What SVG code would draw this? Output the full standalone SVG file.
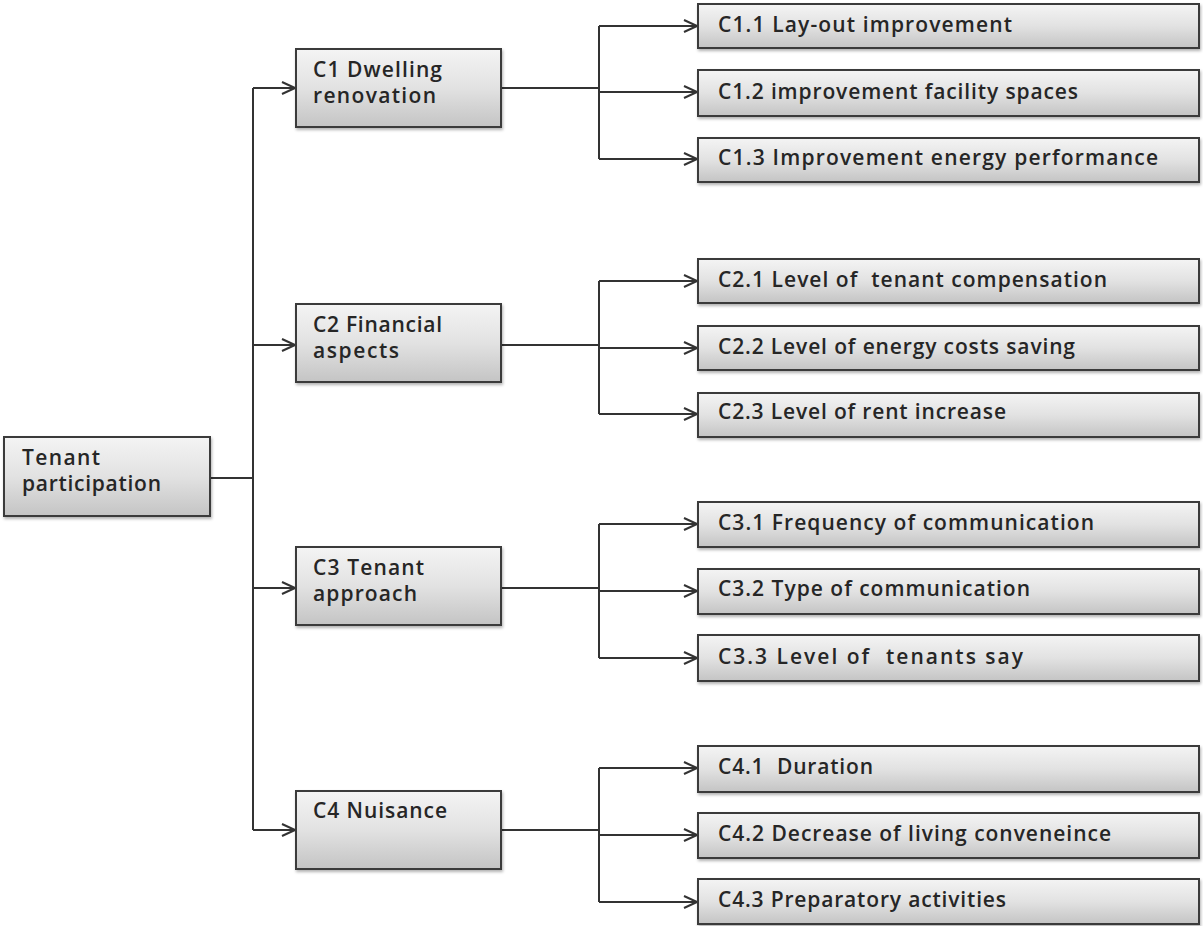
<svg xmlns="http://www.w3.org/2000/svg" width="1203" height="926" viewBox="0 0 1203 926">
<style>
.box{fill:url(#g);stroke:#3a3a3a;stroke-width:2;filter:url(#sh)}
.t{font-family:"Open Sans","DejaVu Sans",sans-serif;font-size:21px;fill:#262626;font-weight:600}
.c{fill:none;stroke:#333;stroke-width:2}
</style>
<defs>
<linearGradient id="g" x1="0" y1="0" x2="0" y2="1">
<stop offset="0" stop-color="#f4f4f4"/>
<stop offset="0.5" stop-color="#e2e2e2"/>
<stop offset="1" stop-color="#c4c4c4"/>
</linearGradient>
<filter id="sh" x="-5%" y="-10%" width="110%" height="130%">
<feDropShadow dx="1" dy="2" stdDeviation="1.5" flood-color="#000" flood-opacity="0.3"/>
</filter>
<marker id="a" markerWidth="16" markerHeight="14" refX="14" refY="7" orient="auto" markerUnits="userSpaceOnUse">
<path d="M1,1 L14,7 L1,13" fill="none" stroke="#333" stroke-width="2"/>
</marker>
</defs>
<g id="connectors">
<path class="c" d="M210,478 H253"/>
<path class="c" d="M253,88 V830"/>
<path class="c" d="M253,88 H295" marker-end="url(#a)"/>
<path class="c" d="M253,345 H295" marker-end="url(#a)"/>
<path class="c" d="M253,588 H295" marker-end="url(#a)"/>
<path class="c" d="M253,830 H295" marker-end="url(#a)"/>
<path class="c" d="M501,88 H599 M599,26 V159"/>
<path class="c" d="M599,26 H697" marker-end="url(#a)"/>
<path class="c" d="M599,92 H697" marker-end="url(#a)"/>
<path class="c" d="M599,159 H697" marker-end="url(#a)"/>
<path class="c" d="M501,345 H599 M599,281 V414"/>
<path class="c" d="M599,281 H697" marker-end="url(#a)"/>
<path class="c" d="M599,348 H697" marker-end="url(#a)"/>
<path class="c" d="M599,414 H697" marker-end="url(#a)"/>
<path class="c" d="M501,588 H599 M599,524 V658"/>
<path class="c" d="M599,524 H697" marker-end="url(#a)"/>
<path class="c" d="M599,591 H697" marker-end="url(#a)"/>
<path class="c" d="M599,658 H697" marker-end="url(#a)"/>
<path class="c" d="M501,830 H599 M599,768 V902"/>
<path class="c" d="M599,768 H697" marker-end="url(#a)"/>
<path class="c" d="M599,835 H697" marker-end="url(#a)"/>
<path class="c" d="M599,902 H697" marker-end="url(#a)"/>
</g>
<g id="root"><rect class="box" x="4" y="437" width="206" height="79"/>
<text class="t" x="22" y="465" textLength="78" lengthAdjust="spacing">Tenant</text>
<text class="t" x="22" y="491" textLength="139" lengthAdjust="spacing">participation</text></g>
<g id="c1"><rect class="box" x="296" y="49" width="205" height="78"/>
<text class="t" x="313" y="77" textLength="129" lengthAdjust="spacing">C1 Dwelling</text>
<text class="t" x="313" y="103" textLength="123" lengthAdjust="spacing">renovation</text></g>
<g id="c2"><rect class="box" x="296" y="304" width="205" height="78"/>
<text class="t" x="313" y="332" textLength="129" lengthAdjust="spacing">C2 Financial</text>
<text class="t" x="313" y="358" textLength="86" lengthAdjust="spacing">aspects</text></g>
<g id="c3"><rect class="box" x="296" y="547" width="205" height="78"/>
<text class="t" x="313" y="575" textLength="111" lengthAdjust="spacing">C3 Tenant</text>
<text class="t" x="313" y="601" textLength="104" lengthAdjust="spacing">approach</text></g>
<g id="c4"><rect class="box" x="296" y="791" width="205" height="78"/>
<text class="t" x="313" y="818" textLength="134" lengthAdjust="spacing">C4 Nuisance</text></g>
<g id="c11"><rect class="box" x="698" y="4" width="501" height="44"/>
<text class="t" x="718" y="32" textLength="294" lengthAdjust="spacing">C1.1 Lay-out improvement</text></g>
<g id="c12"><rect class="box" x="698" y="70" width="501" height="46"/>
<text class="t" x="718" y="99" textLength="360" lengthAdjust="spacing">C1.2 improvement facility spaces</text></g>
<g id="c13"><rect class="box" x="698" y="138" width="501" height="44"/>
<text class="t" x="718" y="165" textLength="440" lengthAdjust="spacing">C1.3 Improvement energy performance</text></g>
<g id="c21"><rect class="box" x="698" y="259" width="501" height="44"/>
<text class="t" x="718" y="287" textLength="389" lengthAdjust="spacing" xml:space="preserve">C2.1 Level of  tenant compensation</text></g>
<g id="c22"><rect class="box" x="698" y="326" width="501" height="44"/>
<text class="t" x="718" y="354" textLength="357" lengthAdjust="spacing">C2.2 Level of energy costs saving</text></g>
<g id="c23"><rect class="box" x="698" y="393" width="501" height="44"/>
<text class="t" x="718" y="419" textLength="288" lengthAdjust="spacing">C2.3 Level of rent increase</text></g>
<g id="c31"><rect class="box" x="698" y="502" width="501" height="45"/>
<text class="t" x="718" y="530" textLength="376" lengthAdjust="spacing">C3.1 Frequency of communication</text></g>
<g id="c32"><rect class="box" x="698" y="569" width="501" height="45"/>
<text class="t" x="718" y="596" textLength="312" lengthAdjust="spacing">C3.2 Type of communication</text></g>
<g id="c33"><rect class="box" x="698" y="635" width="501" height="46"/>
<text class="t" x="718" y="664" textLength="305" lengthAdjust="spacing" xml:space="preserve">C3.3 Level of  tenants say</text></g>
<g id="c41"><rect class="box" x="698" y="746" width="501" height="46"/>
<text class="t" x="718" y="774" textLength="155" lengthAdjust="spacing" xml:space="preserve">C4.1  Duration</text></g>
<g id="c42"><rect class="box" x="698" y="813" width="501" height="45"/>
<text class="t" x="718" y="841" textLength="393" lengthAdjust="spacing">C4.2 Decrease of living conveneince</text></g>
<g id="c43"><rect class="box" x="698" y="879" width="501" height="45"/>
<text class="t" x="718" y="907" textLength="288" lengthAdjust="spacing">C4.3 Preparatory activities</text></g>
</svg>
